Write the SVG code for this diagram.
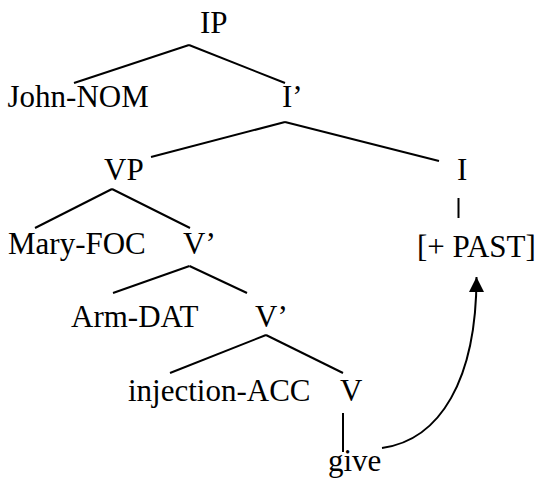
<svg xmlns="http://www.w3.org/2000/svg" width="540" height="478" viewBox="0 0 540 478">
  <style>
    .lbl { font-family: 'Liberation Serif', 'DejaVu Serif', serif; font-size: 31px; fill: #000; }
    .edge { stroke: #000; stroke-width: 2; fill: none; stroke-linecap: butt; }
  </style>
  <defs>
    <marker id="head" markerUnits="userSpaceOnUse" markerWidth="16" markerHeight="16" viewBox="0 0 16 16" refX="15" refY="7.5" orient="auto">
      <path d="M0,0 L15,7.5 L0,15 Z" fill="#000"/>
    </marker>
  </defs>

  <!-- tree branches -->
  <g id="connectors">
    <line class="edge" x1="189" y1="45" x2="74" y2="83"/>
    <line class="edge" x1="189" y1="45" x2="285" y2="83"/>
    <line class="edge" x1="285" y1="122" x2="151" y2="157"/>
    <line class="edge" x1="285" y1="122" x2="439" y2="161"/>
    <line class="edge" x1="458.5" y1="198" x2="458.5" y2="218"/>
    <line class="edge" x1="112" y1="189" x2="35" y2="228"/>
    <line class="edge" x1="112" y1="189" x2="190" y2="228"/>
    <line class="edge" x1="189.5" y1="266" x2="113" y2="293"/>
    <line class="edge" x1="189.5" y1="266" x2="247" y2="293"/>
    <line class="edge" x1="266" y1="335" x2="170" y2="373"/>
    <line class="edge" x1="266" y1="335" x2="343" y2="373"/>
    <line class="edge" x1="343" y1="413" x2="343" y2="452"/>
    <!-- head movement of the verb up to tense -->
    <path class="edge" d="M382,448 C440,440 476.5,380 476.5,277" marker-end="url(#head)"/>
  </g>

  <g id="IP"><text class="lbl" font-family="Liberation Serif, serif" x="200" y="33">IP</text></g>
  <g id="John-NOM"><text class="lbl" x="7.5" y="107">John-NOM</text></g>
  <g id="I-bar"><text class="lbl" x="282" y="107">I’</text></g>
  <g id="VP"><text class="lbl" x="104" y="180">VP</text></g>
  <g id="I"><text class="lbl" x="457" y="180">I</text></g>
  <g id="Mary-FOC"><text class="lbl" x="8" y="254">Mary-FOC</text></g>
  <g id="V-bar-1"><text class="lbl" x="183" y="254">V’</text></g>
  <g id="PAST"><text class="lbl" x="417" y="257">[+ PAST]</text></g>
  <g id="Arm-DAT"><text class="lbl" x="71" y="327">Arm-DAT</text></g>
  <g id="V-bar-2"><text class="lbl" x="255" y="327">V’</text></g>
  <g id="injection-ACC"><text class="lbl" x="128" y="401">injection-ACC</text></g>
  <g id="V"><text class="lbl" x="340" y="401">V</text></g>
  <g id="give"><text class="lbl" x="328" y="471">give</text></g>
</svg>
